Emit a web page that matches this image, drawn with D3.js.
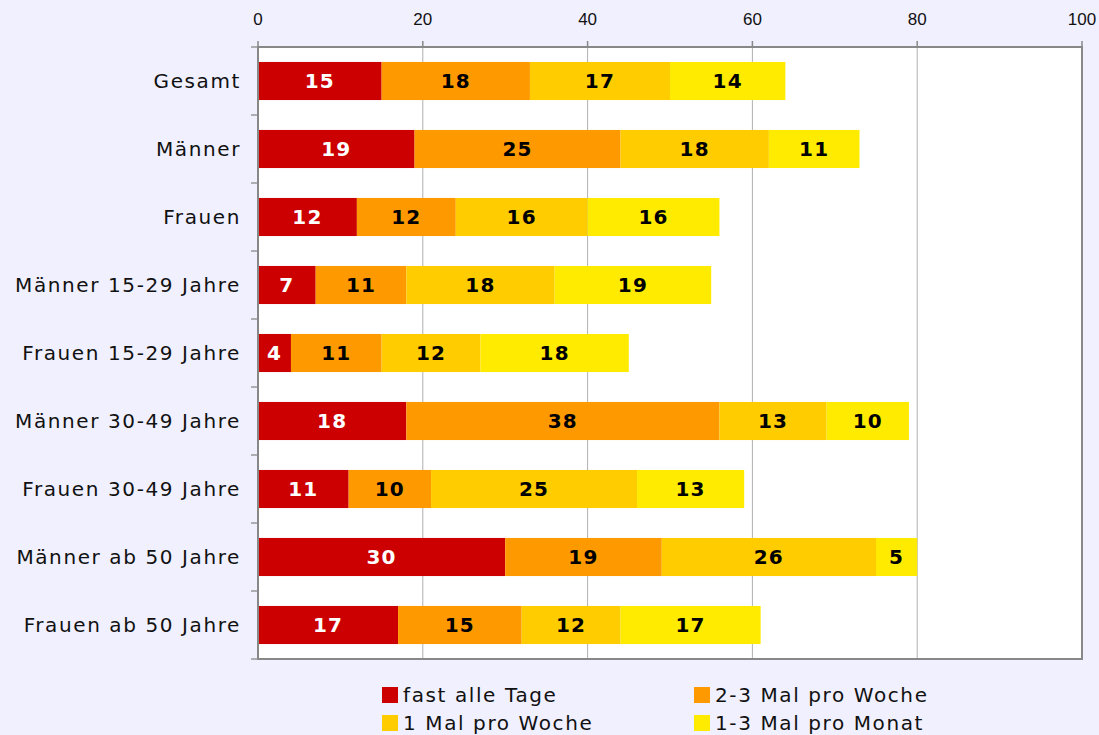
<!DOCTYPE html>
<html>
<head>
<meta charset="utf-8">
<script src="https://cdn.jsdelivr.net/npm/d3@7"></script>
<style>
  body { margin: 0; background: #f0f0fe; }
  svg { display: block; }
  .tick-label { font-family: "Liberation Sans", Arial, sans-serif; font-size: 17px; fill: #111; }
  .cat-label { font-family: "DejaVu Sans", Verdana, sans-serif; font-size: 20px; letter-spacing: 1.6px; fill: #111; }
  .val-label { font-family: "DejaVu Sans", Verdana, sans-serif; font-size: 20px; letter-spacing: 1.2px; font-weight: bold; }
  .legend-label { font-family: "DejaVu Sans", Verdana, sans-serif; font-size: 20px; letter-spacing: 1.6px; fill: #111; }
</style>
</head>
<body>
<script>
const width = 1099,
  height = 735,
  margin = { top: 47, right: 17, bottom: 76, left: 258 };

const categories = [
  "Gesamt",
  "Männer",
  "Frauen",
  "Männer 15-29 Jahre",
  "Frauen 15-29 Jahre",
  "Männer 30-49 Jahre",
  "Frauen 30-49 Jahre",
  "Männer ab 50 Jahre",
  "Frauen ab 50 Jahre",
];

const seriesNames = [
  "fast alle Tage",
  "2-3 Mal pro Woche",
  "1 Mal pro Woche",
  "1-3 Mal pro Monat",
];

const fastAlleTage = [15, 19, 12, 7, 4, 18, 11, 30, 17];
const zweiDreiMalWoche = [18, 25, 12, 11, 11, 38, 10, 19, 15];
const einMalWoche = [17, 18, 16, 18, 12, 13, 25, 26, 12];
const einDreiMalMonat = [14, 11, 16, 19, 18, 10, 13, 5, 17];

const xTicks = [0, 20, 40, 60, 80, 100];

const colors = ["#cc0000", "#ff9900", "#ffcc00", "#ffeb00"];
const textColors = ["#fff", "#000", "#000", "#000"];

const seriesValues = [fastAlleTage, zweiDreiMalWoche, einMalWoche, einDreiMalMonat];

// table for d3.stack
const table = categories.map((c, i) => {
  const row = { category: c };
  seriesNames.forEach((s, j) => (row[s] = seriesValues[j][i]));
  return row;
});

const stacked = d3.stack().keys(seriesNames)(table);

const plotW = width - margin.left - margin.right,
  plotH = height - margin.top - margin.bottom;

const x = d3.scaleLinear().domain([0, 100]).range([0, plotW]);
const y = d3
  .scaleBand()
  .domain(categories)
  .range([0, plotH])
  .paddingInner(0.44)
  .paddingOuter(0.22);

const svg = d3
  .select("body")
  .append("svg")
  .attr("width", width)
  .attr("height", height);

svg.append("rect").attr("width", width).attr("height", height).attr("fill", "#f0f0fe");

const g = svg.append("g").attr("transform", `translate(${margin.left},${margin.top})`);

// plot background
g.append("rect").attr("width", plotW).attr("height", plotH).attr("fill", "#fff");

// gridlines
g.selectAll(".grid")
  .data(xTicks.slice(1, -1))
  .enter()
  .append("line")
  .attr("x1", x)
  .attr("x2", x)
  .attr("y1", 0)
  .attr("y2", plotH)
  .attr("stroke", "#b0b0b0")
  .attr("stroke-width", 1);

// top tick marks and labels
g.selectAll(".xtick")
  .data(xTicks)
  .enter()
  .append("line")
  .attr("x1", x)
  .attr("x2", x)
  .attr("y1", -6)
  .attr("y2", 0)
  .attr("stroke", "#888")
  .attr("stroke-width", 1.5);

g.selectAll(".tick-label")
  .data(xTicks)
  .enter()
  .append("text")
  .attr("class", "tick-label")
  .attr("x", x)
  .attr("y", -22)
  .attr("text-anchor", "middle")
  .text((d) => d);

// left tick marks at category boundaries
const step = plotH / categories.length;
g.selectAll(".ytick")
  .data(d3.range(categories.length + 1))
  .enter()
  .append("line")
  .attr("x1", -7)
  .attr("x2", 0)
  .attr("y1", (d) => d * step)
  .attr("y2", (d) => d * step)
  .attr("stroke", "#999")
  .attr("stroke-width", 1.5);

// bars
const layers = g
  .selectAll(".layer")
  .data(stacked)
  .enter()
  .append("g")
  .attr("fill", (d, i) => colors[i]);

layers
  .selectAll("rect")
  .data((d) => d)
  .enter()
  .append("rect")
  .attr("x", (d) => x(d[0]))
  .attr("width", (d) => x(d[1]) - x(d[0]))
  .attr("y", (d) => y(d.data.category))
  .attr("height", y.bandwidth());

// value labels
stacked.forEach((layer, i) => {
  g.selectAll(".val-" + i)
    .data(layer)
    .enter()
    .append("text")
    .attr("class", "val-label")
    .attr("x", (d) => (x(d[0]) + x(d[1])) / 2)
    .attr("y", (d) => y(d.data.category) + y.bandwidth() / 2)
    .attr("dy", "0.36em")
    .attr("text-anchor", "middle")
    .attr("fill", textColors[i])
    .text((d) => d[1] - d[0]);
});

// category labels
g.selectAll(".cat-label")
  .data(categories)
  .enter()
  .append("text")
  .attr("class", "cat-label")
  .attr("x", -17)
  .attr("y", (d) => y(d) + y.bandwidth() / 2)
  .attr("dy", "0.36em")
  .attr("text-anchor", "end")
  .text((d) => d);

// frame
g.append("rect")
  .attr("width", plotW)
  .attr("height", plotH)
  .attr("fill", "none")
  .attr("stroke", "#888")
  .attr("stroke-width", 2);

// legend
const legendPos = [
  [382, 687],
  [694, 687],
  [382, 715],
  [694, 715],
];
const legend = svg
  .selectAll(".legend")
  .data(seriesNames)
  .enter()
  .append("g")
  .attr("transform", (d, i) => `translate(${legendPos[i][0]},${legendPos[i][1]})`);

legend
  .append("rect")
  .attr("width", 16)
  .attr("height", 16)
  .attr("fill", (d, i) => colors[i]);

legend
  .append("text")
  .attr("class", "legend-label")
  .attr("x", 21)
  .attr("y", 8)
  .attr("dy", "0.36em")
  .text((d) => d);
</script>
</body>
</html>
